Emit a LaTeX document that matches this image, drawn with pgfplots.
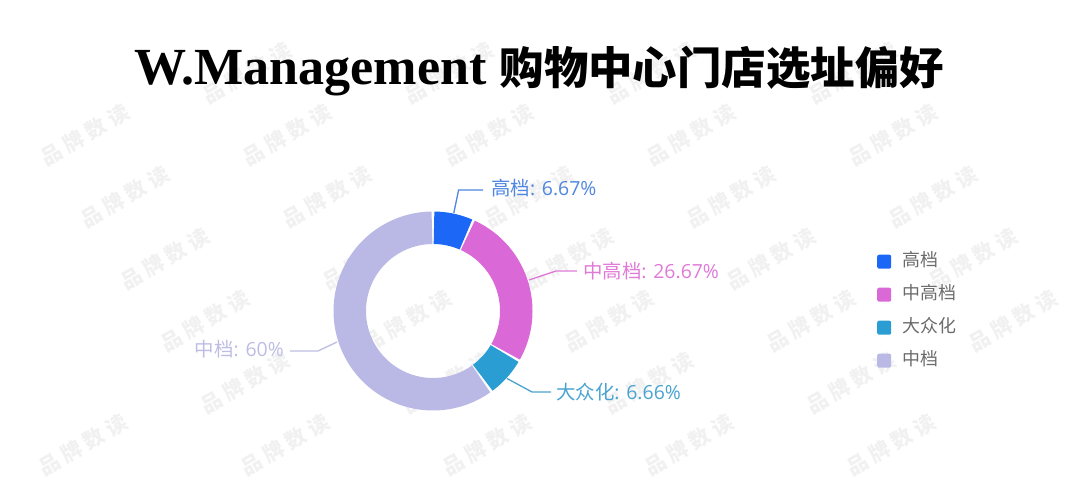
\documentclass[border=0pt]{standalone}
\usepackage{fontspec}
\setmainfont{Noto Sans CJK SC}
\newfontfamily\titlelatin{Liberation Serif}
\newfontfamily\cjk{Noto Sans CJK SC}
\newfontfamily\lat{Open Sans}
\usepackage{pgfplots}
\pgfplotsset{compat=1.18}

\definecolor{cA}{HTML}{1C67F6}
\definecolor{cB}{HTML}{DA68D6}
\definecolor{cC}{HTML}{2A9ED3}
\definecolor{cD}{HTML}{BAB9E6}
\definecolor{lA}{HTML}{4F86E0}
\definecolor{lB}{HTML}{E07AD8}
\definecolor{lC}{HTML}{4AA3CF}
\definecolor{lD}{HTML}{BDBDE3}
\definecolor{legtext}{HTML}{6B6B6B}
\definecolor{wm}{HTML}{F1F1F1}

% shares (%) : 高档, 中高档, 大众化, 中档
\def\vA{6.67}
\def\vB{26.67}
\def\vC{6.66}
\def\vD{60}
\pgfmathsetmacro\aA{90}
\pgfmathsetmacro\aB{\aA-3.6*\vA}
\pgfmathsetmacro\aC{\aB-3.6*\vB}
\pgfmathsetmacro\aD{\aC-3.6*\vC}
\pgfmathsetmacro\aE{\aD-3.6*\vD}
\def\g{0.7}
\pgfmathsetmacro\sAlo{\aB+\g}\pgfmathsetmacro\sAhi{\aA-\g}
\pgfmathsetmacro\sBlo{\aC+\g}\pgfmathsetmacro\sBhi{\aB-\g}
\pgfmathsetmacro\sClo{\aD+\g}\pgfmathsetmacro\sChi{\aC-\g}
\pgfmathsetmacro\sDlo{\aE+\g}\pgfmathsetmacro\sDhi{\aD-\g}
\def\cx{433}\def\cy{191}\def\rm{83.25}
\newcommand\lab{\fontsize{19.5}{20}\selectfont}
\newcommand\wmfont{\cjk\bfseries\fontsize{21}{21}\selectfont\addfontfeature{LetterSpace=22}}
\newcommand\wmtext{品牌数读}

\begin{document}
\begin{tikzpicture}
\begin{axis}[
  x=1bp, y=1bp, xmin=0, xmax=1080, ymin=0, ymax=502,
  hide axis, clip=false,
  legend cell align=left,
  legend image code/.code={\fill[#1, draw=none, rounded corners=2bp] (0bp,-7bp) rectangle (14bp,7bp);},
  legend style={at={(axis cs:877,249)}, anchor=north west, draw=none, fill=none,
    font=\cjk\fontsize{18}{18}\selectfont, text=legtext, row sep=16bp, inner sep=0pt,
    nodes={inner sep=0pt, text height=13bp, text depth=4bp},
    /tikz/every odd column/.append style={column sep=11bp}},
]
\coordinate (SW) at (axis cs:0,0);
\coordinate (NE) at (axis cs:1080,502);

% watermarks (faint background text)
\foreach \i in {-3,...,8}{
  \foreach \j in {-3,...,6}{
    \pgfmathsetmacro\wx{85+40*\i+202*\j}
    \pgfmathsetmacro\wy{502-(135+62*\i)}
    \pgfmathparse{and(and(\wx>45,\wx<1035),and(\wy>25,\wy<477))}
    \ifnum\pgfmathresult>0
      \edef\temp{\noexpand\node[rotate=30, text=wm, font=\noexpand\wmfont, inner sep=0pt] at (axis cs:\wx,\wy) {\noexpand\wmtext};}
      \temp
    \fi
  }
}

% donut sectors (thick arcs with butt caps)
\addplot[forget plot, cA, line width=32.5bp, domain=\sAlo:\sAhi, samples=30] ({\cx+\rm*cos(x)},{\cy+\rm*sin(x)});
\addplot[forget plot, cB, line width=32.5bp, domain=\sBlo:\sBhi, samples=60] ({\cx+\rm*cos(x)},{\cy+\rm*sin(x)});
\addplot[forget plot, cC, line width=32.5bp, domain=\sClo:\sChi, samples=30] ({\cx+\rm*cos(x)},{\cy+\rm*sin(x)});
\addplot[forget plot, cD, line width=32.5bp, domain=\sDlo:\sDhi, samples=120] ({\cx+\rm*cos(x)},{\cy+\rm*sin(x)});

% leader lines
\addplot[forget plot, lA, line width=1.3bp] coordinates {(453.8,289) (458.6,312) (483,312)};
\addplot[forget plot, lB, line width=1.3bp] coordinates {(529,222) (556,231) (577,231)};
\addplot[forget plot, lC, line width=1.3bp] coordinates {(507,123.5) (532,110) (551,110)};
\addplot[forget plot, lD, line width=1.3bp] coordinates {(337,160) (318,151) (290,151)};

% labels
\node[anchor=west, text=lA, inner sep=0pt] at (axis cs:491,314) {\lab{\cjk 高档}{\lat: 6.67\%}};
\node[anchor=west, text=lB, inner sep=0pt] at (axis cs:583,231) {\lab{\cjk 中高档}{\lat: 26.67\%}};
\node[anchor=west, text=lC, inner sep=0pt] at (axis cs:556,110) {\lab{\cjk 大众化}{\lat: 6.66\%}};
\node[anchor=east, text=lD, inner sep=0pt] at (axis cs:284,153) {\lab{\cjk 中档}{\lat: 60\%}};

% title
\node[anchor=base, inner sep=0pt] at (axis cs:539,417)
  {{\titlelatin\bfseries\fontsize{52.3}{52}\selectfont W.Management}\hspace{13bp}{\cjk\bfseries\fontsize{44.6}{44}\selectfont 购物中心门店选址偏好}};

% legend
\addlegendimage{fill=cA}\addlegendentry{高档}
\addlegendimage{fill=cB}\addlegendentry{中高档}
\addlegendimage{fill=cC}\addlegendentry{大众化}
\addlegendimage{fill=cD}\addlegendentry{中档}
\end{axis}
\pgfresetboundingbox
\path[use as bounding box] (SW) rectangle (NE);
\end{tikzpicture}
\end{document}
